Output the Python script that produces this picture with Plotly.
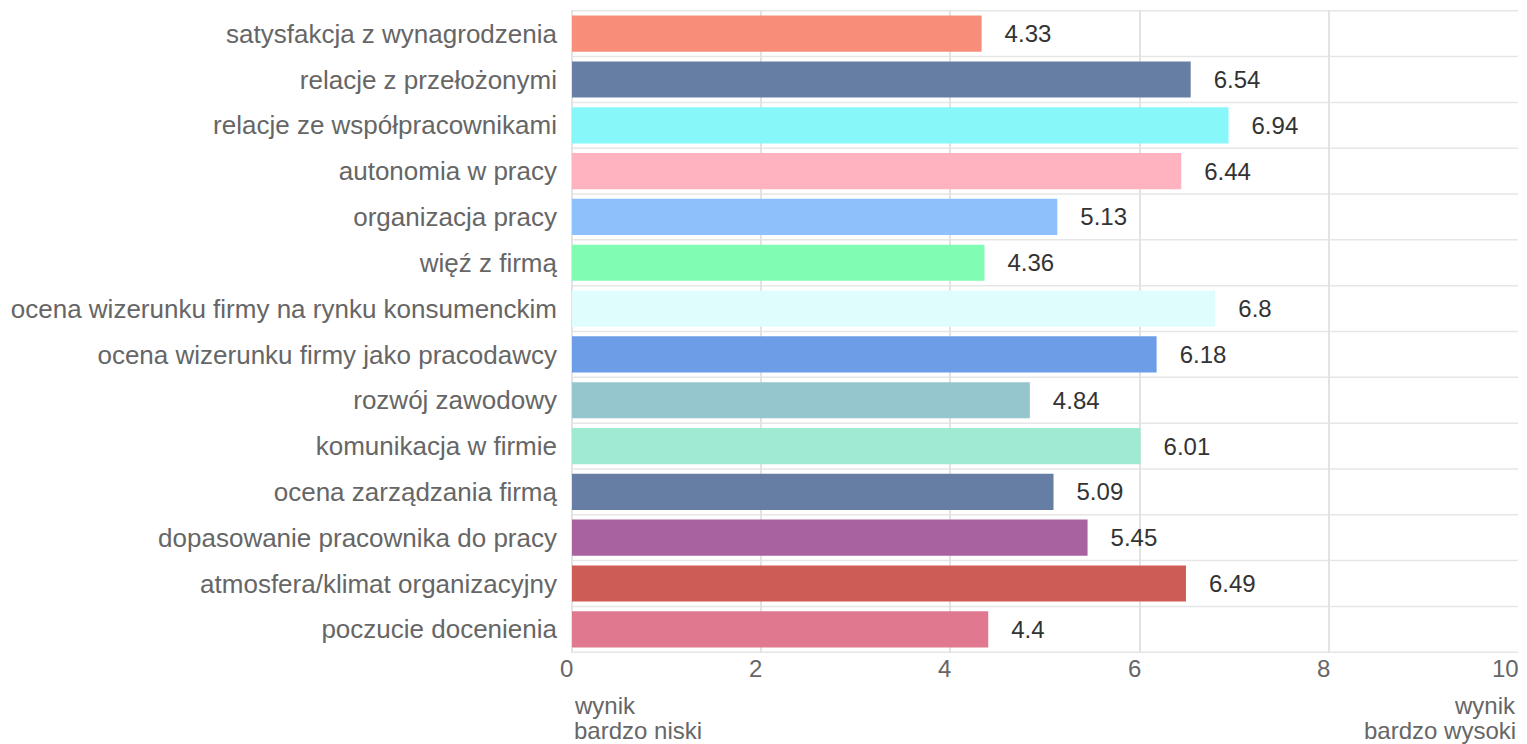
import plotly.graph_objects as go

categories = [
    "satysfakcja z wynagrodzenia",
    "relacje z przełożonymi",
    "relacje ze współpracownikami",
    "autonomia w pracy",
    "organizacja pracy",
    "więź z firmą",
    "ocena wizerunku firmy na rynku konsumenckim",
    "ocena wizerunku firmy jako pracodawcy",
    "rozwój zawodowy",
    "komunikacja w firmie",
    "ocena zarządzania firmą",
    "dopasowanie pracownika do pracy",
    "atmosfera/klimat organizacyjny",
    "poczucie docenienia",
]
values = [4.33, 6.54, 6.94, 6.44, 5.13, 4.36, 6.8, 6.18, 4.84, 6.01, 5.09, 5.45, 6.49, 4.4]
value_labels = ["4.33", "6.54", "6.94", "6.44", "5.13", "4.36", "6.8", "6.18", "4.84", "6.01", "5.09", "5.45", "6.49", "4.4"]
colors = ["#F88E7A", "#667EA3", "#88F7FA", "#FFB3C0", "#8EC0FC", "#80FCB3", "#E0FDFE",
          "#6E9DE8", "#95C6CE", "#A0EAD3", "#667EA3", "#A862A0", "#CD5C55", "#E07890"]
x_ticks = [0, 2, 4, 6, 8, 10]
x_tick_labels = ["0", "2", "4", "6", "8", "10"]
low_label_lines = ["wynik", "bardzo niski"]
high_label_lines = ["wynik", "bardzo wysoki"]

FONT = "Liberation Sans, Arial, sans-serif"
GRAY = "#666666"

fig = go.Figure()
fig.add_trace(go.Bar(
    y=categories, x=values, orientation="h",
    marker=dict(color=colors, line=dict(width=0)),
    text=["   " + t for t in value_labels],
    textposition="outside",
    textfont=dict(family=FONT, size=24, color="#333333"),
    cliponaxis=False,
    hoverinfo="x+y",
))

n = len(categories)
shapes = []
for i in range(n + 1):
    shapes.append(dict(type="line", xref="paper", x0=0, x1=1, yref="y", y0=i - 0.5, y1=i - 0.5,
                       line=dict(color="#E6E6E6", width=1.5), layer="below"))

annotations = []
# x tick labels, right-aligned to their gridlines as in the reference
for v, t in zip(x_ticks, x_tick_labels):
    annotations.append(dict(x=v, y=0, xref="x", yref="paper", yshift=-15, text=t,
                            showarrow=False, xanchor="right", yanchor="middle",
                            font=dict(size=24, color=GRAY), xshift=3))
for j, line in enumerate(low_label_lines):
    annotations.append(dict(x=0, y=0, xref="x", yref="paper", yshift=-52 - 25 * j, text=line,
                            showarrow=False, xanchor="left", yanchor="middle", align="left",
                            font=dict(size=24, color=GRAY)))
for j, line in enumerate(high_label_lines):
    annotations.append(dict(x=10, y=0, xref="x", yref="paper", yshift=-52 - 25 * j, text=line,
                            showarrow=False, xanchor="right", yanchor="middle", align="right",
                            font=dict(size=24, color=GRAY)))

fig.update_layout(
    width=1527, height=744,
    margin=dict(l=572, r=9, t=10, b=91),
    paper_bgcolor="white", plot_bgcolor="white",
    bargap=0.21,
    showlegend=False,
    shapes=shapes,
    annotations=annotations,
    font=dict(family=FONT, size=24, color=GRAY),
    xaxis=dict(range=[0, 10], tickvals=x_ticks, showgrid=True, gridcolor="#E3E3E3", gridwidth=1.5,
               zeroline=True, zerolinecolor="#E3E3E3", zerolinewidth=1.5,
               showline=False, ticks="", showticklabels=False),
    yaxis=dict(autorange="reversed", showgrid=False, ticks="", ticklabelstandoff=14,
               tickfont=dict(size=26, color=GRAY)),
)

fig.write_html("out.html", post_script="document.body.style.margin='0';",
               config={"displayModeBar": False})
